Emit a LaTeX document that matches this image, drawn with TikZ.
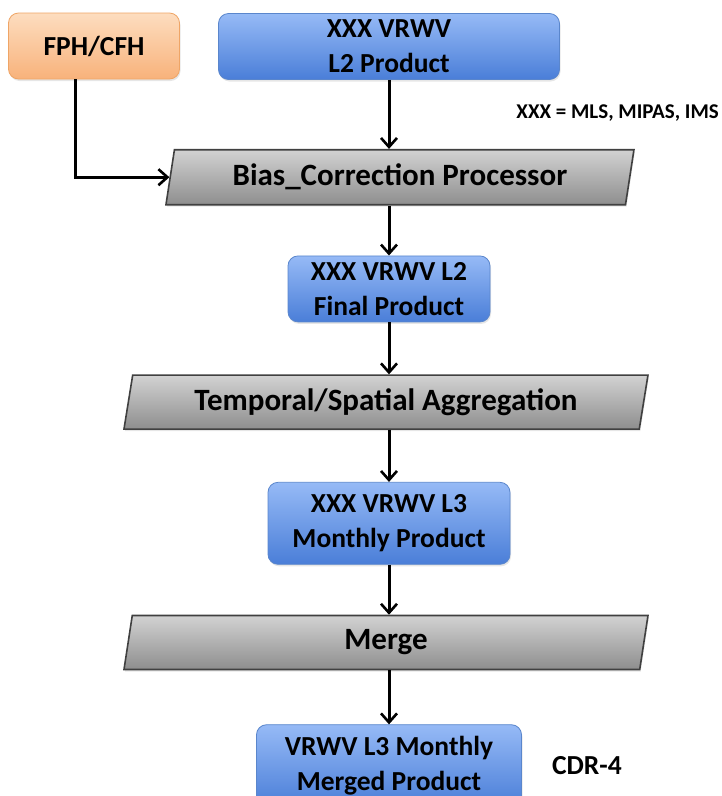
\documentclass[tikz,border=0pt]{standalone}
\usepackage{fontspec}
\setmainfont{Carlito}
\usetikzlibrary{positioning}
\usetikzlibrary{shapes.geometric}
\usetikzlibrary{arrows.meta}
\usetikzlibrary{shadows}

\definecolor{bluetop}{HTML}{96BAF6}
\definecolor{bluebot}{HTML}{4A7ED8}
\definecolor{blueline}{HTML}{5A86CC}
\definecolor{orangetop}{HTML}{FDDDBF}
\definecolor{orangebot}{HTML}{F8B27B}
\definecolor{orangeline}{HTML}{EFA566}
\definecolor{greytop}{HTML}{D2D2D2}
\definecolor{greybot}{HTML}{8E8E8E}
\definecolor{greyline}{HTML}{404040}

\tikzset{
  product/.style={rectangle, rounded corners=10pt, draw=blueline, line width=0.8pt,
    top color=bluetop, bottom color=bluebot, align=center,
    font=\bfseries\fontsize{27.5}{35}\selectfont,
    drop shadow={opacity=0.2, shadow xshift=1pt, shadow yshift=-2pt}},
  source/.style={product, draw=orangeline, top color=orangetop, bottom color=orangebot},
  process/.style={trapezium, trapezium stretches body=true,
    trapezium left angle=75.5, trapezium right angle=104.5,
    draw=greyline, line width=1.6pt, top color=greytop, bottom color=greybot,
    font=\bfseries\fontsize{31}{36}\selectfont,
    drop shadow={opacity=0.2, shadow xshift=1pt, shadow yshift=-2pt}},
  note/.style={font=\bfseries\fontsize{21}{24}\selectfont, inner sep=0pt},
  flow/.style={-{Straight Barb[length=9pt,width=16pt,line width=2.6pt]}, line width=3pt}
}

\begin{document}
\begin{tikzpicture}[x=1pt, y=-1pt]
    \useasboundingbox (0,0) rectangle (721,796);

    % Define nodes
    \node[source, minimum width=171pt, minimum height=66pt] (fph) at (94,46) {FPH/CFH};
    \node[product, minimum width=341pt, minimum height=66pt] (l2) at (389,46.5) {XXX VRWV\\L2 Product};
    \node[note, anchor=east] (key) at (719,113) {XXX = MLS, MIPAS, IMS};
    \node[process, below=69pt of l2, xshift=11pt, minimum width=468pt, minimum height=55pt] (bias) {Bias\_Correction Processor};
    \node[product, below=50pt of bias, xshift=-11pt, minimum width=202pt, minimum height=66pt] (final) {XXX VRWV L2\\Final Product};
    \node[process, below=52pt of final, xshift=-3pt, minimum width=524pt, minimum height=54pt] (aggr) {Temporal/Spatial Aggregation};
    \node[product, below=52pt of aggr, xshift=3pt, minimum width=242pt, minimum height=82pt] (l3) {XXX VRWV L3\\Monthly Product};
    \node[process, below=50pt of l3, xshift=-3pt, minimum width=524pt, minimum height=54pt] (merge) {Merge};
    \node[product, below=54pt of merge, xshift=3pt, minimum width=265pt, minimum height=82pt] (merged) {VRWV L3 Monthly\\Merged Product};
    \node[note, font=\bfseries\fontsize{27.5}{30}\selectfont, right=30pt of merged] (cdr) {CDR-4};

    % Connect the nodes
    \draw[flow] (l2.south) -- (l2.south |- bias.north);
    \draw[flow] ([xshift=-19pt]fph.south) |- (bias.west);
    \draw[flow] (final.north |- bias.south) -- (final.north);
    \draw[flow] (final.south) -- (final.south |- aggr.north);
    \draw[flow] (l3.north |- aggr.south) -- (l3.north);
    \draw[flow] (l3.south) -- (l3.south |- merge.north);
    \draw[flow] (merged.north |- merge.south) -- (merged.north);
\end{tikzpicture}
\end{document}
